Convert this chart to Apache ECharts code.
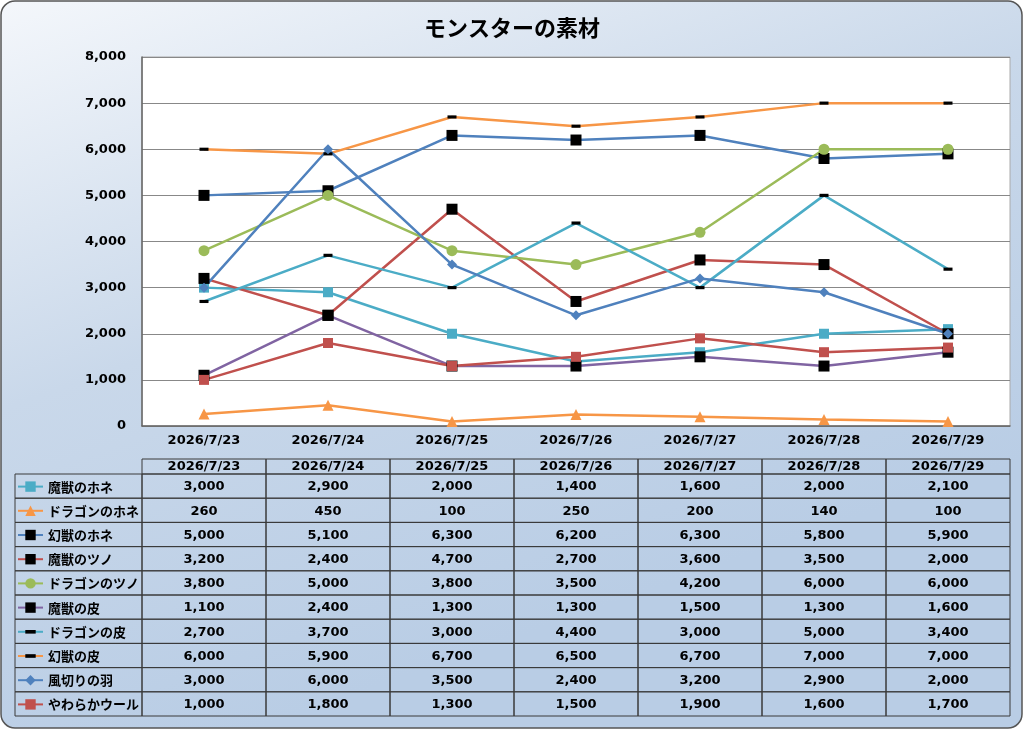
<!DOCTYPE html>
<html>
<head>
<meta charset="utf-8">
<title>モンスターの素材</title>
<script src="https://cdn.jsdelivr.net/npm/echarts@6/dist/echarts.min.js"></script>
<style>
	html, body { margin: 0; padding: 0; background: #fff; }
	#main { width: 1024px; height: 730px; }
</style>
</head>
<body>
<div id="main"></div>
<script>
// 日付
var dates = ['2026/7/23', '2026/7/24', '2026/7/25', '2026/7/26', '2026/7/27', '2026/7/28', '2026/7/29'];

// 各素材の数量
var majuHone = [3000, 2900, 2000, 1400, 1600, 2000, 2100];
var dragonHone = [260, 450, 100, 250, 200, 140, 100];
var genjuHone = [5000, 5100, 6300, 6200, 6300, 5800, 5900];
var majuTsuno = [3200, 2400, 4700, 2700, 3600, 3500, 2000];
var dragonTsuno = [3800, 5000, 3800, 3500, 4200, 6000, 6000];
var majuKawa = [1100, 2400, 1300, 1300, 1500, 1300, 1600];
var dragonKawa = [2700, 3700, 3000, 4400, 3000, 5000, 3400];
var genjuKawa = [6000, 5900, 6700, 6500, 6700, 7000, 7000];
var kazakiriHane = [3000, 6000, 3500, 2400, 3200, 2900, 2000];
var yawarakaWool = [1000, 1800, 1300, 1500, 1900, 1600, 1700];

var yTicks = [0, 1000, 2000, 3000, 4000, 5000, 6000, 7000, 8000];

var FONT = '"DejaVu Sans", "Noto Sans CJK JP", sans-serif';
var JFONT = '"Noto Sans CJK JP", sans-serif';
// 横棒マーカー (正方形の枠の中央に細い棒)
var DASH = 'path://M0,-2.6L0,-2.6M0,0H8V2.8H0ZM8,5.4L8,5.4';

// 系列定義: 名前, データ, 線の色, マーカーの色, マーカー形, サイズ
var seriesDefs = [
	['魔獣のホネ', majuHone, '#4bacc6', '#4bacc6', 'rect', 10],
	['ドラゴンのホネ', dragonHone, '#f79646', '#f79646', 'triangle', 11],
	['幻獣のホネ', genjuHone, '#4f81bd', '#000', 'rect', 11],
	['魔獣のツノ', majuTsuno, '#c0504d', '#000', 'rect', 11],
	['ドラゴンのツノ', dragonTsuno, '#9bbb59', '#9bbb59', 'circle', 11],
	['魔獣の皮', majuKawa, '#8064a2', '#000', 'rect', 11],
	['ドラゴンの皮', dragonKawa, '#4bacc6', '#000', DASH, 9],
	['幻獣の皮', genjuKawa, '#f79646', '#000', DASH, 9],
	['風切りの羽', kazakiriHane, '#4f81bd', '#4f81bd', 'diamond', 10],
	['やわらかウール', yawarakaWool, '#c0504d', '#c0504d', 'rect', 10]
];

function fmt(v) {
	return String(v).replace(/\B(?=(\d{3})+(?!\d))/g, ',');
}

var chart = echarts.init(document.getElementById('main'));

// 表のレイアウト
var tableTop = 459,
	headerH = 15,
	rowH = 24.2,
	legendLeft = 15,
	legendItemH = 13;

var series = seriesDefs.map(function(d) {
	return {
		name: d[0],
		type: 'line',
		data: d[1],
		symbol: d[4],
		symbolSize: d[5],
		symbolKeepAspect: true,
		showAllSymbol: true,
		lineStyle: { color: d[2], width: 2.5 },
		itemStyle: { color: d[3] },
		emphasis: { disabled: true }
	};
});

var option = {
	animation: false,
	backgroundColor: 'transparent',
	textStyle: { fontFamily: FONT },
	title: {
		text: 'モンスターの素材',
		left: 'center',
		top: 12,
		textStyle: { fontSize: 22, fontWeight: 'bold', color: '#000', fontFamily: JFONT }
	},
	legend: {
		orient: 'vertical',
		left: legendLeft + 2,
		top: tableTop + headerH + (rowH - legendItemH) / 2 + 0.5,
		padding: 0,
		itemWidth: 25,
		itemHeight: legendItemH,
		itemGap: rowH - legendItemH,
		symbolKeepAspect: true,
		selectedMode: false,
		textStyle: { fontSize: 13, color: '#000', fontFamily: JFONT, fontWeight: 'bold' },
		data: seriesDefs.map(function(d) { return d[0]; })
	},
	grid: {
		left: 142,
		right: 14,
		top: 57,
		bottom: 304,
		show: true,
		backgroundColor: '#fff',
		borderColor: '#aaa',
		borderWidth: 1
	},
	xAxis: {
		type: 'category',
		data: dates,
		axisLine: { lineStyle: { color: '#666', width: 1.5 } },
		axisTick: { show: false },
		axisLabel: { color: '#000', fontSize: 13, margin: 8, fontFamily: FONT, fontWeight: 'bold' }
	},
	yAxis: {
		type: 'value',
		min: yTicks[0],
		max: yTicks[yTicks.length - 1],
		interval: yTicks[1] - yTicks[0],
		axisLine: { show: true, lineStyle: { color: '#666', width: 1.5 } },
		axisTick: { show: false },
		splitLine: { lineStyle: { color: '#888', width: 1 } },
		axisLabel: {
			color: '#000', fontSize: 13, margin: 16, fontFamily: FONT, fontWeight: 'bold',
			padding: [0, 0, 3, 0],
			formatter: function(v) { return fmt(v); }
		}
	},
	graphic: [{
		type: 'rect',
		z: -10,
		shape: { x: 1, y: 1, width: 1021, height: 727, r: 14 },
		style: {
			fill: new echarts.graphic.LinearGradient(0, 0, 0.25, 1, [
				{ offset: 0, color: '#f4f7fb' },
				{ offset: 0.5, color: '#c9d8ea' },
				{ offset: 1, color: '#b9cde5' }
			]),
			stroke: '#555',
			lineWidth: 1.5
		}
	}],
	series: series
};

chart.setOption(option);

// データ表の作成
function buildTable() {
	var x0 = chart.convertToPixel({ xAxisIndex: 0 }, 0);
	var x1 = chart.convertToPixel({ xAxisIndex: 0 }, 1);
	var bw = x1 - x0;
	var gridLeft = x0 - bw / 2;
	var els = [];
	var lineStyle = { stroke: '#3a3a3a', lineWidth: 1, fill: null };
	var textFont = 'bold 13px ' + FONT;

	// 見出し行
	dates.forEach(function(d, i) {
		var cx = chart.convertToPixel({ xAxisIndex: 0 }, i);
		els.push({
			type: 'rect',
			shape: { x: cx - bw / 2, y: tableTop, width: bw, height: headerH },
			style: lineStyle, silent: true
		});
		els.push({
			type: 'text',
			x: cx, y: tableTop + headerH / 2,
			style: {
				text: d, fill: '#000', font: textFont,
				align: 'center', verticalAlign: 'middle'
			},
			silent: true
		});
	});

	// データ行
	seriesDefs.forEach(function(s, r) {
		var y = tableTop + headerH + r * rowH;
		els.push({
			type: 'rect',
			shape: { x: legendLeft, y: y, width: gridLeft - legendLeft, height: rowH },
			style: lineStyle, silent: true
		});
		s[1].forEach(function(v, i) {
			var cx = chart.convertToPixel({ xAxisIndex: 0 }, i);
			els.push({
				type: 'rect',
				shape: { x: cx - bw / 2, y: y, width: bw, height: rowH },
				style: lineStyle, silent: true
			});
			els.push({
				type: 'text',
				x: cx, y: y + rowH / 2 + 1,
				style: {
					text: fmt(v), fill: '#000', font: textFont,
					align: 'center', verticalAlign: 'middle'
				},
				silent: true
			});
		});
	});

	var g = option.graphic.concat(els);
	chart.setOption({ graphic: g });
}

buildTable();

window.onresize = function() {
	chart.resize();
};
</script>
</body>
</html>
